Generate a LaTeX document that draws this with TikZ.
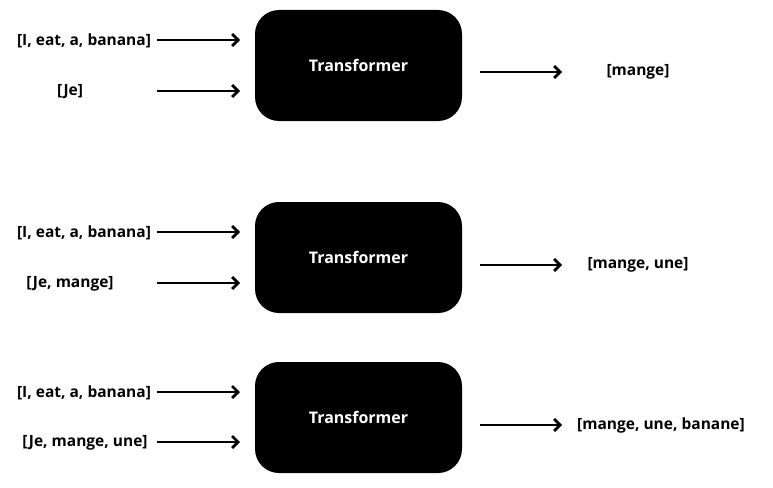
\documentclass[tikz,border=0pt]{standalone}
\usepackage{fontspec}
\setmainfont{Open Sans}
\usetikzlibrary{arrows.meta}
\begin{document}
\begin{tikzpicture}[x=1pt,y=-1pt,
  tbox/.style={fill=black,rounded corners=24pt,minimum width=207pt,minimum height=111pt,text=white,font=\fontsize{16}{18}\selectfont\bfseries},
  lbl/.style={font=\fontsize{15.5}{18}\selectfont\bfseries,inner sep=0pt},
  arr/.style={line width=2.8pt,-{Straight Barb[length=6pt,width=12pt,line width=2.8pt]}}]
\useasboundingbox (0,0) rectangle (773,487);
% row 1
\node[tbox] (t1) at (358.5,65.5) {Transformer};
\node[lbl] (a1) at (84,41) {[I, eat, a, banana]};
\node[lbl] (b1) at (70,91.5) {[Je]};
\node[lbl] (o1) at (638,72) {[mange]};
\coordinate (a1s) at (157,40); \coordinate (a1e) at (240,40);
\coordinate (b1s) at (157,91); \coordinate (b1e) at (240,91);
\coordinate (o1s) at (480,72); \coordinate (o1e) at (562,72);
\draw[arr] (a1s) -- (a1e);
\draw[arr] (b1s) -- (b1e);
\draw[arr] (o1s) -- (o1e);
% row 2
\node[tbox] (t2) at (358.5,257.5) {Transformer};
\node[lbl] (a2) at (84,233) {[I, eat, a, banana]};
\node[lbl] (b2) at (70,283.5) {[Je, mange]};
\node[lbl] (o2) at (638,265) {[mange, une]};
\coordinate (a2s) at (157,232); \coordinate (a2e) at (240,232);
\coordinate (b2s) at (157,283); \coordinate (b2e) at (240,283);
\coordinate (o2s) at (480,265); \coordinate (o2e) at (562,265);
\draw[arr] (a2s) -- (a2e);
\draw[arr] (b2s) -- (b2e);
\draw[arr] (o2s) -- (o2e);
% row 3
\node[tbox] (t3) at (358.5,417.5) {Transformer};
\node[lbl] (a3) at (84,393) {[I, eat, a, banana]};
\node[lbl] (b3) at (85,442.5) {[Je, mange, une]};
\node[lbl] (o3) at (661,425) {[mange, une, banane]};
\coordinate (a3s) at (157,392); \coordinate (a3e) at (240,392);
\coordinate (b3s) at (157,442); \coordinate (b3e) at (240,442);
\coordinate (o3s) at (480,425); \coordinate (o3e) at (562,425);
\draw[arr] (a3s) -- (a3e);
\draw[arr] (b3s) -- (b3e);
\draw[arr] (o3s) -- (o3e);
\end{tikzpicture}
\end{document}
